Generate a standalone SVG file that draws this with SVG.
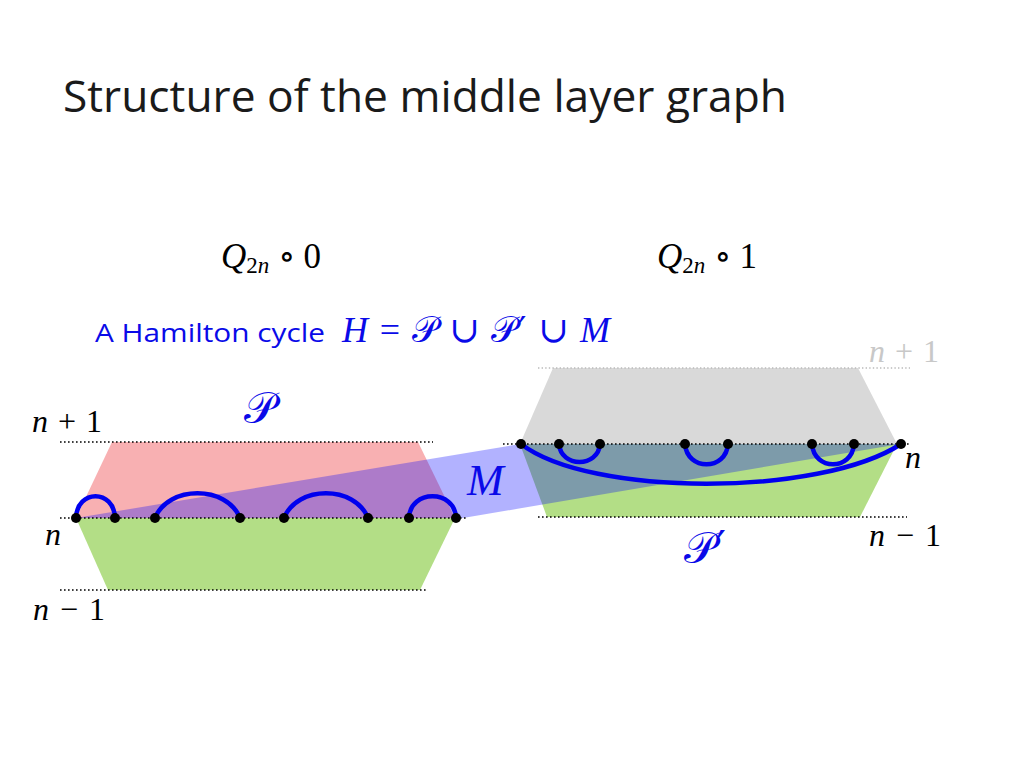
<svg xmlns="http://www.w3.org/2000/svg" width="1024" height="768" viewBox="0 0 1024 768">
<style>
.dot{stroke:#000;stroke-width:1.6;stroke-dasharray:1.6 2.4;fill:none}
.dotg{stroke:#bbb;stroke-width:1.4;stroke-dasharray:1.4 2.2;fill:none}
.arc{stroke:#0000ee;stroke-width:4.5;fill:none;stroke-linecap:round}
.m{font-family:"Liberation Serif","DejaVu Serif",serif;fill:#000}
.s27{font-size:32px}
.i{font-style:italic}
.blue{fill:#0a0ae8}
</style>
<rect width="1024" height="768" fill="#fff"/>
<text x="63" y="112" font-family="Open Sans, Liberation Sans, sans-serif" font-size="43" fill="#1a1a1a" textLength="724" lengthAdjust="spacingAndGlyphs">Structure of the middle layer graph</text>

<g id="label-q0">
<text class="m" x="221" y="268" style="font-size:35px"><tspan class="i">Q</tspan><tspan style="font-size:23px" dy="5">2<tspan class="i">n</tspan></tspan><tspan dy="-5" dx="9">∘</tspan><tspan dx="8">0</tspan></text>
</g>
<g id="label-q1">
<text class="m" x="657" y="268" style="font-size:35px"><tspan class="i">Q</tspan><tspan style="font-size:23px" dy="5">2<tspan class="i">n</tspan></tspan><tspan dy="-5" dx="9">∘</tspan><tspan dx="8">1</tspan></text>
</g>
<g id="label-h">
<text x="95" y="342" font-family="Open Sans, Liberation Sans, sans-serif" font-size="25" class="blue" textLength="230" lengthAdjust="spacingAndGlyphs">A Hamilton cycle</text>
<text class="m blue" x="342" y="342" style="font-size:36px" textLength="268" lengthAdjust="spacing"><tspan class="i">H</tspan> = 𝒫 ∪ 𝒫<tspan font-family="DejaVu Sans, sans-serif">′</tspan> ∪ <tspan class="i">M</tspan></text>
</g>

<g id="left-half">
<polygon points="112,442 418,442 455,518 76,518" fill="#f8b0b2"/>
<polygon points="76,518 455,518 420,590 108,590" fill="#b3de86"/>
<line class="dot" x1="60" y1="442" x2="433" y2="442"/>
<line class="dot" x1="60" y1="590" x2="428" y2="590"/>
</g>

<g id="right-half">
<polygon points="553,368 858,368 897,444 520,444" fill="#d9d9d9"/>
<polygon points="520,444 897,444 860,517 547,517" fill="#b3de86"/>
<line class="dotg" x1="538" y1="368" x2="910" y2="368"/>
<line class="dot" x1="538" y1="517" x2="907" y2="517"/>
</g>

<g id="matching-M">
<polygon points="76,518 520,444 900,444 463,518" fill="#0000ff" fill-opacity="0.3"/>
</g>

<g id="connectors">
<line class="dot" x1="60" y1="518" x2="467" y2="518"/>
<line class="dot" x1="503" y1="444" x2="910" y2="444"/>
<path class="arc" d="M76,518 C77,489 114,489 115,518"/>
<path class="arc" d="M155,518 C168,485 227,485 240,518"/>
<path class="arc" d="M284,518 C297,485 355,485 368,518"/>
<path class="arc" d="M409,518 C410,489 455,489 456,518"/>
<path class="arc" d="M559,444 C561,468 598,468 600,444"/>
<path class="arc" d="M685,444 C687,471 726,471 728,444"/>
<path class="arc" d="M812,444 C814,471 852,471 854,444"/>
<path class="arc" d="M521,444 C590,497 820,497 901,444"/>
</g>

<g id="vertices" fill="#000">
<circle cx="76" cy="518" r="5"/><circle cx="115" cy="518" r="5"/>
<circle cx="155" cy="518" r="5"/><circle cx="240" cy="518" r="5"/>
<circle cx="284" cy="518" r="5"/><circle cx="368" cy="518" r="5"/>
<circle cx="409" cy="518" r="5"/><circle cx="456" cy="518" r="5"/>
<circle cx="521" cy="444" r="5"/><circle cx="559" cy="444" r="5"/>
<circle cx="600" cy="444" r="5"/><circle cx="685" cy="444" r="5"/>
<circle cx="728" cy="444" r="5"/><circle cx="812" cy="444" r="5"/>
<circle cx="854" cy="444" r="5"/><circle cx="901" cy="444" r="5"/>
</g>

<g id="level-labels">
<text class="m s27" x="32" y="432" textLength="70" lengthAdjust="spacing"><tspan class="i">n</tspan> + 1</text>
<text class="m s27 i" x="45" y="545">n</text>
<text class="m s27" x="33" y="620" textLength="72" lengthAdjust="spacing"><tspan class="i">n</tspan> − 1</text>
<text class="m s27" x="869" y="362" style="fill:#c8c8c8" textLength="70" lengthAdjust="spacing"><tspan class="i">n</tspan> + 1</text>
<text class="m s27 i" x="905" y="468">n</text>
<text class="m s27" x="869" y="546" textLength="72" lengthAdjust="spacing"><tspan class="i">n</tspan> − 1</text>
</g>

<g id="set-labels">
<text class="m blue" x="244" y="423" style="font-size:44px">𝒫</text>
<text class="m blue i" x="467" y="495" style="font-size:44px">M</text>
<text class="m blue" x="684" y="563" style="font-size:44px">𝒫<tspan font-family="DejaVu Sans, sans-serif">′</tspan></text>
</g>
</svg>
